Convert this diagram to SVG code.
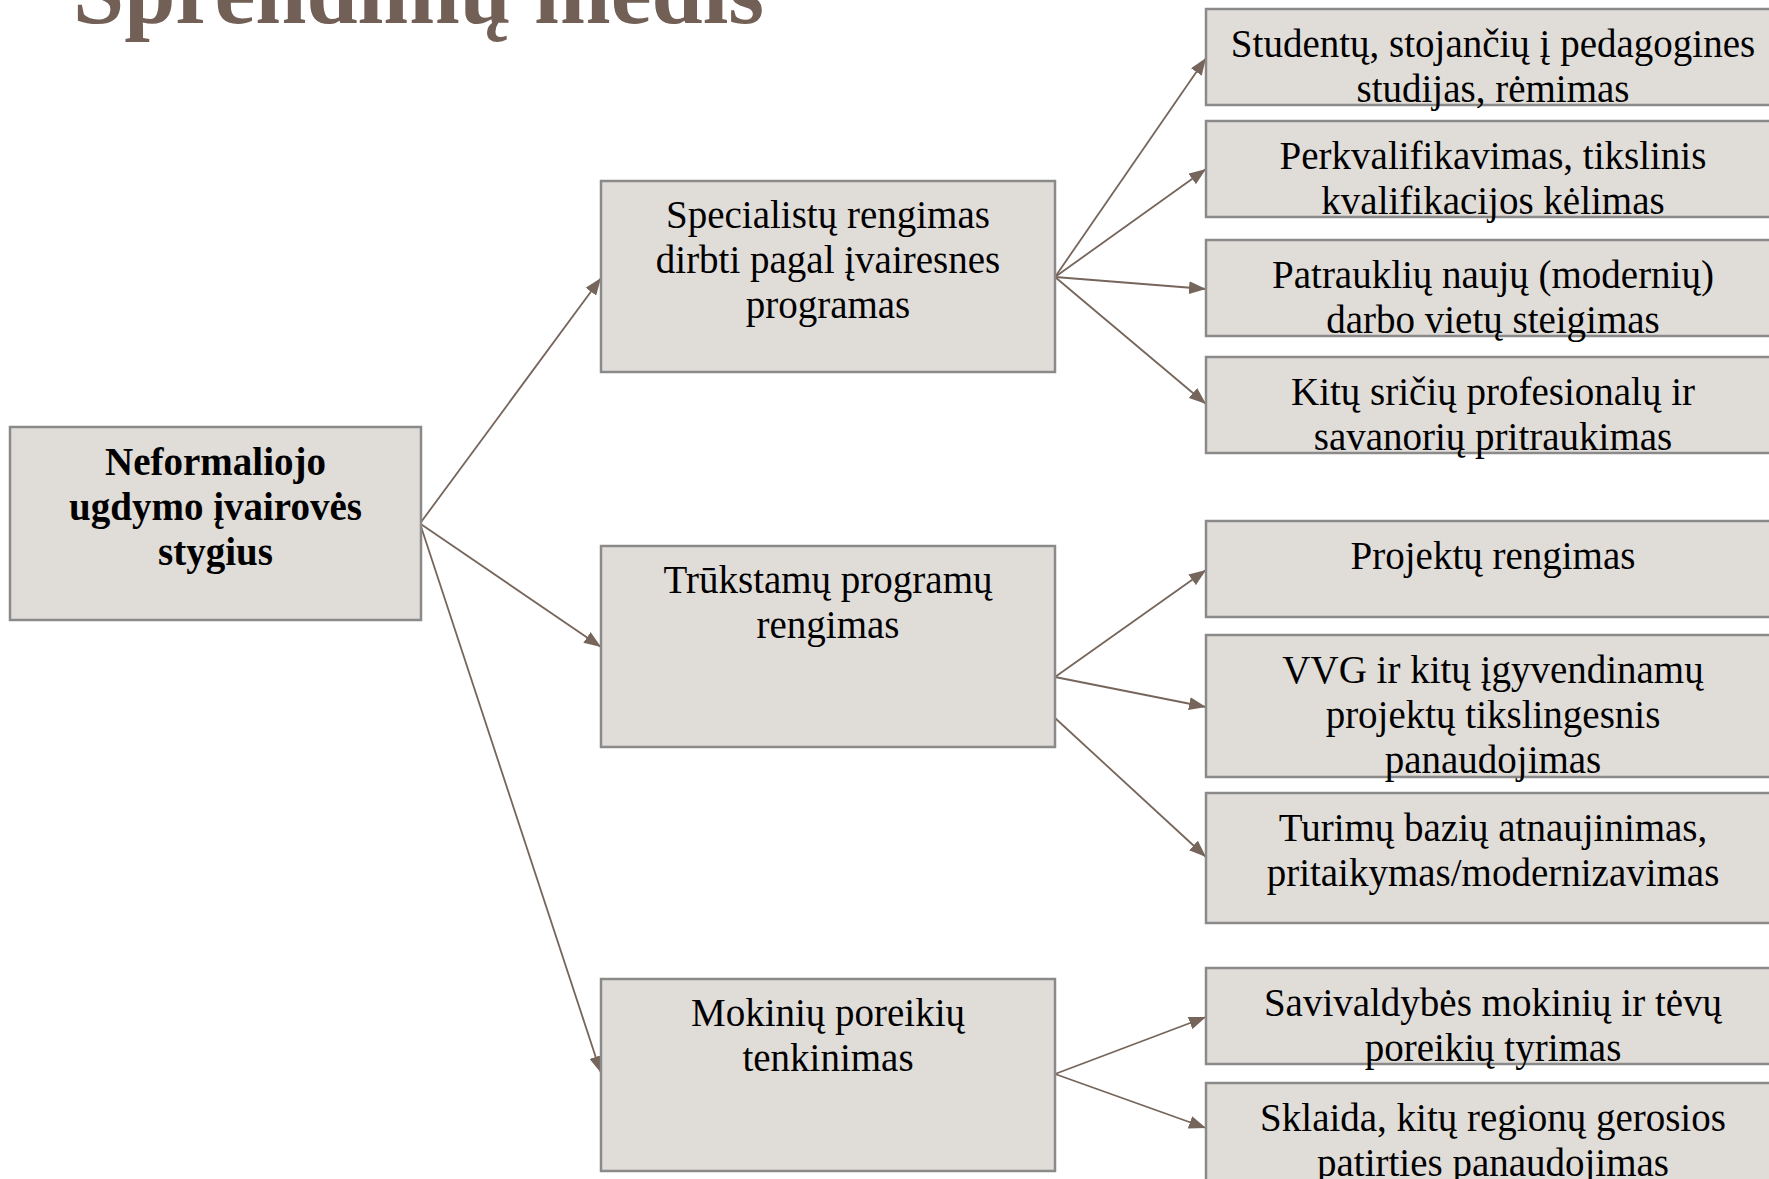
<svg xmlns="http://www.w3.org/2000/svg" width="1769" height="1179" viewBox="0 0 1769 1179">
<defs>
<style>
.box{fill:#e0dcd8;stroke:#8a8a8a;stroke-width:2.5}
.t{font-family:"Liberation Serif","Times New Roman",serif;font-size:39px;fill:#000;text-anchor:middle}
.b{font-weight:bold}
.c{stroke:#76655b;stroke-width:1.8;fill:none;marker-end:url(#ah)}
.title{font-family:"Liberation Serif","Times New Roman",serif;font-size:92px;font-weight:bold;fill:#725f55}
</style>
<marker id="ah" markerUnits="userSpaceOnUse" markerWidth="17" markerHeight="13" refX="17" refY="6.5" orient="auto">
<path d="M0,0 L17,6.5 L0,13 z" fill="#76655b"/>
</marker>
</defs>
<rect width="1769" height="1179" fill="#ffffff"/>
<text class="title" x="73" y="23">Sprendimų medis</text>
<g id="connectors">
<line class="c" x1="420" y1="523.5" x2="601" y2="278"/>
<line class="c" x1="420" y1="523.5" x2="601" y2="647"/>
<line class="c" x1="420" y1="523.5" x2="601" y2="1073"/>
<line class="c" x1="1055" y1="277" x2="1206" y2="58"/>
<line class="c" x1="1055" y1="277" x2="1206" y2="169"/>
<line class="c" x1="1055" y1="277" x2="1206" y2="289"/>
<line class="c" x1="1055" y1="277" x2="1206" y2="404"/>
<line class="c" x1="1055" y1="677" x2="1206" y2="570"/>
<line class="c" x1="1055" y1="677" x2="1206" y2="707"/>
<line class="c" x1="1055" y1="718" x2="1206" y2="857"/>
<line class="c" x1="1055" y1="1074" x2="1206" y2="1017"/>
<line class="c" x1="1055" y1="1074" x2="1206" y2="1128"/>
</g>
<g id="root">
<rect class="box" x="10" y="427" width="411" height="193"/>
<text class="t b" x="215.5" y="475">Neformaliojo</text>
<text class="t b" x="215.5" y="520">ugdymo įvairovės</text>
<text class="t b" x="215.5" y="565">stygius</text>
</g>
<g id="specialistu">
<rect class="box" x="601" y="181" width="454" height="191"/>
<text class="t" x="828" y="228">Specialistų rengimas</text>
<text class="t" x="828" y="273">dirbti pagal įvairesnes</text>
<text class="t" x="828" y="318">programas</text>
</g>
<g id="trukstamu">
<rect class="box" x="601" y="546" width="454" height="201"/>
<text class="t" x="828" y="593">Trūkstamų programų</text>
<text class="t" x="828" y="638">rengimas</text>
</g>
<g id="mokiniu">
<rect class="box" x="601" y="979" width="454" height="192"/>
<text class="t" x="828" y="1026">Mokinių poreikių</text>
<text class="t" x="828" y="1071">tenkinimas</text>
</g>
<g id="studentu">
<rect class="box" x="1206" y="9" width="574" height="96"/>
<text class="t" x="1493" y="57">Studentų, stojančių į pedagogines</text>
<text class="t" x="1493" y="102">studijas, rėmimas</text>
</g>
<g id="perkvalifikavimas">
<rect class="box" x="1206" y="121" width="574" height="96"/>
<text class="t" x="1493" y="169">Perkvalifikavimas, tikslinis</text>
<text class="t" x="1493" y="214">kvalifikacijos kėlimas</text>
</g>
<g id="patraukliu">
<rect class="box" x="1206" y="240" width="574" height="96"/>
<text class="t" x="1493" y="288">Patrauklių naujų (modernių)</text>
<text class="t" x="1493" y="333">darbo vietų steigimas</text>
</g>
<g id="kitu-sriciu">
<rect class="box" x="1206" y="357" width="574" height="96"/>
<text class="t" x="1493" y="405">Kitų sričių profesionalų ir</text>
<text class="t" x="1493" y="450">savanorių pritraukimas</text>
</g>
<g id="projektu">
<rect class="box" x="1206" y="521" width="574" height="96"/>
<text class="t" x="1493" y="569">Projektų rengimas</text>
</g>
<g id="vvg">
<rect class="box" x="1206" y="635" width="574" height="142"/>
<text class="t" x="1493" y="683">VVG ir kitų įgyvendinamų</text>
<text class="t" x="1493" y="728">projektų tikslingesnis</text>
<text class="t" x="1493" y="773">panaudojimas</text>
</g>
<g id="turimu">
<rect class="box" x="1206" y="793" width="574" height="130"/>
<text class="t" x="1493" y="841">Turimų bazių atnaujinimas,</text>
<text class="t" x="1493" y="886">pritaikymas/modernizavimas</text>
</g>
<g id="savivaldybes">
<rect class="box" x="1206" y="968" width="574" height="96"/>
<text class="t" x="1493" y="1016">Savivaldybės mokinių ir tėvų</text>
<text class="t" x="1493" y="1061">poreikių tyrimas</text>
</g>
<g id="sklaida">
<rect class="box" x="1206" y="1083" width="574" height="110"/>
<text class="t" x="1493" y="1131">Sklaida, kitų regionų gerosios</text>
<text class="t" x="1493" y="1176">patirties panaudojimas</text>
</g>
</svg>
